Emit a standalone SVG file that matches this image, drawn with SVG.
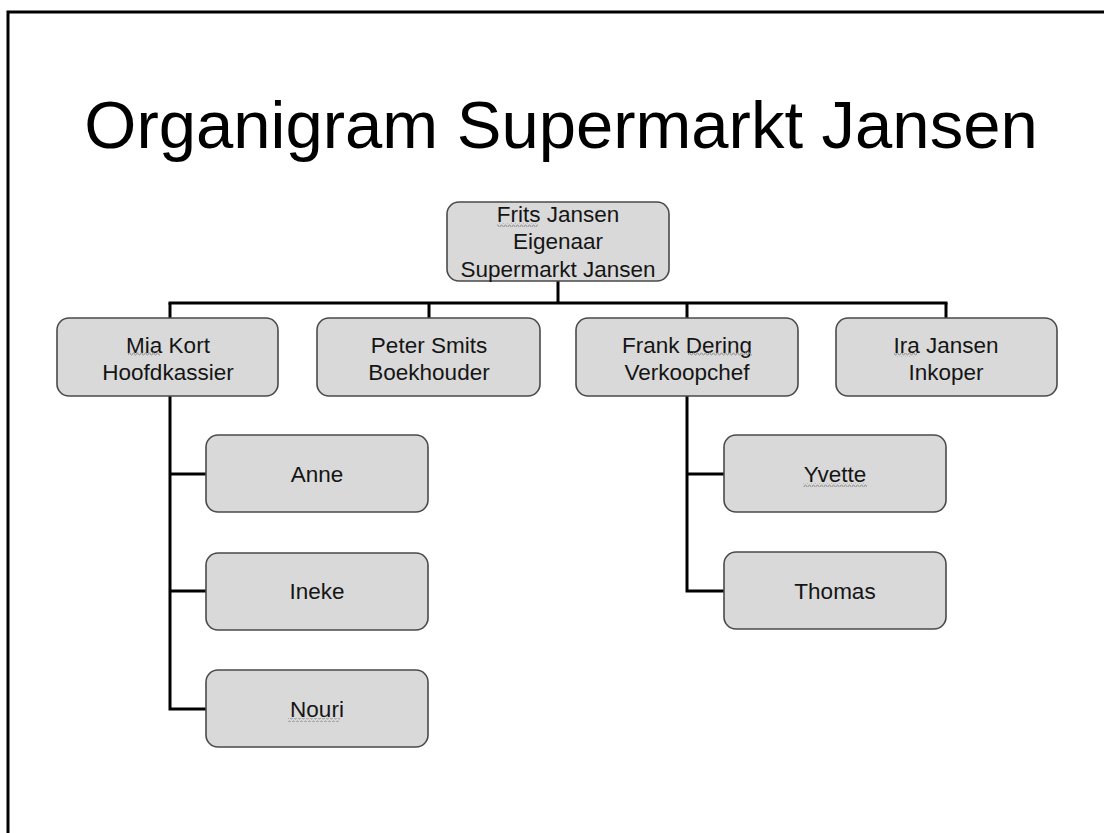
<svg xmlns="http://www.w3.org/2000/svg" width="1104" height="833" viewBox="0 0 1104 833">
<defs>
<style>
.box{fill:#d9d9d9;stroke:#4a4a4a;stroke-width:1.6}
.lbl{font-family:"Liberation Sans",Arial,sans-serif;font-size:22.5px;fill:#151515;text-anchor:middle}
.conn{fill:none;stroke:#000;stroke-width:3}
.title{font-family:"Liberation Sans",Arial,sans-serif;font-size:67px;fill:#000;text-anchor:middle}
</style>
<pattern id="wavy" patternUnits="userSpaceOnUse" width="4" height="4">
<polyline points="0,3 1,1 2,1 3,3 4,3" fill="none" stroke="#9a9a9a" stroke-width="1"/>
</pattern>
</defs>
<rect x="0" y="0" width="1104" height="833" fill="#fff"/>
<path d="M8 833 V12 H1104" fill="none" stroke="#000" stroke-width="3"/>
<text class="title" x="561" y="148">Organigram Supermarkt Jansen</text>
<g id="connectors">
<path class="conn" d="M558 281 V303"/>
<path class="conn" d="M168.5 303 H947.5"/>
<path class="conn" d="M170 303 V318 M429 303 V318 M687 303 V318 M946 303 V318"/>
<path class="conn" d="M170 396 V709 H206 M170 474 H206 M170 591 H206"/>
<path class="conn" d="M687 396 V591 H724 M687 474 H724"/>
</g>
<g id="n-frits">
<rect class="box" x="447" y="202" width="222" height="79" rx="12"/>
<text class="lbl" x="558" y="222">Frits Jansen</text>
<text class="lbl" x="558" y="249">Eigenaar</text>
<text class="lbl" x="558" y="277">Supermarkt Jansen</text>
<rect x="497" y="223" width="41" height="4" fill="url(#wavy)"/>
</g>
<g id="n-mia">
<rect class="box" x="57" y="318" width="221" height="78" rx="12"/>
<text class="lbl" x="168" y="353">Mia Kort</text>
<text class="lbl" x="168" y="380">Hoofdkassier</text>
<rect x="128" y="352" width="32" height="4" fill="url(#wavy)"/>
</g>
<g id="n-peter">
<rect class="box" x="317" y="318" width="223" height="78" rx="12"/>
<text class="lbl" x="429" y="353">Peter Smits</text>
<text class="lbl" x="429" y="380">Boekhouder</text>
</g>
<g id="n-frank">
<rect class="box" x="576" y="318" width="222" height="78" rx="12"/>
<text class="lbl" x="687" y="353">Frank Dering</text>
<text class="lbl" x="687" y="380">Verkoopchef</text>
<rect x="688" y="352" width="64" height="4" fill="url(#wavy)"/>
</g>
<g id="n-ira">
<rect class="box" x="836" y="318" width="221" height="78" rx="12"/>
<text class="lbl" x="946" y="353">Ira Jansen</text>
<text class="lbl" x="946" y="380">Inkoper</text>
<rect x="894" y="353" width="23" height="4" fill="url(#wavy)"/>
</g>
<g id="n-anne">
<rect class="box" x="206" y="435" width="222" height="77" rx="12"/>
<text class="lbl" x="317" y="482">Anne</text>
</g>
<g id="n-ineke">
<rect class="box" x="206" y="553" width="222" height="77" rx="12"/>
<text class="lbl" x="317" y="599">Ineke</text>
</g>
<g id="n-nouri">
<rect class="box" x="206" y="670" width="222" height="77" rx="12"/>
<text class="lbl" x="317" y="717">Nouri</text>
<rect x="288" y="718" width="52" height="4" fill="url(#wavy)"/>
</g>
<g id="n-yvette">
<rect class="box" x="724" y="435" width="222" height="77" rx="12"/>
<text class="lbl" x="835" y="482">Yvette</text>
<rect x="803" y="483" width="64" height="4" fill="url(#wavy)"/>
</g>
<g id="n-thomas">
<rect class="box" x="724" y="552" width="222" height="77" rx="12"/>
<text class="lbl" x="835" y="599">Thomas</text>
</g>
</svg>
